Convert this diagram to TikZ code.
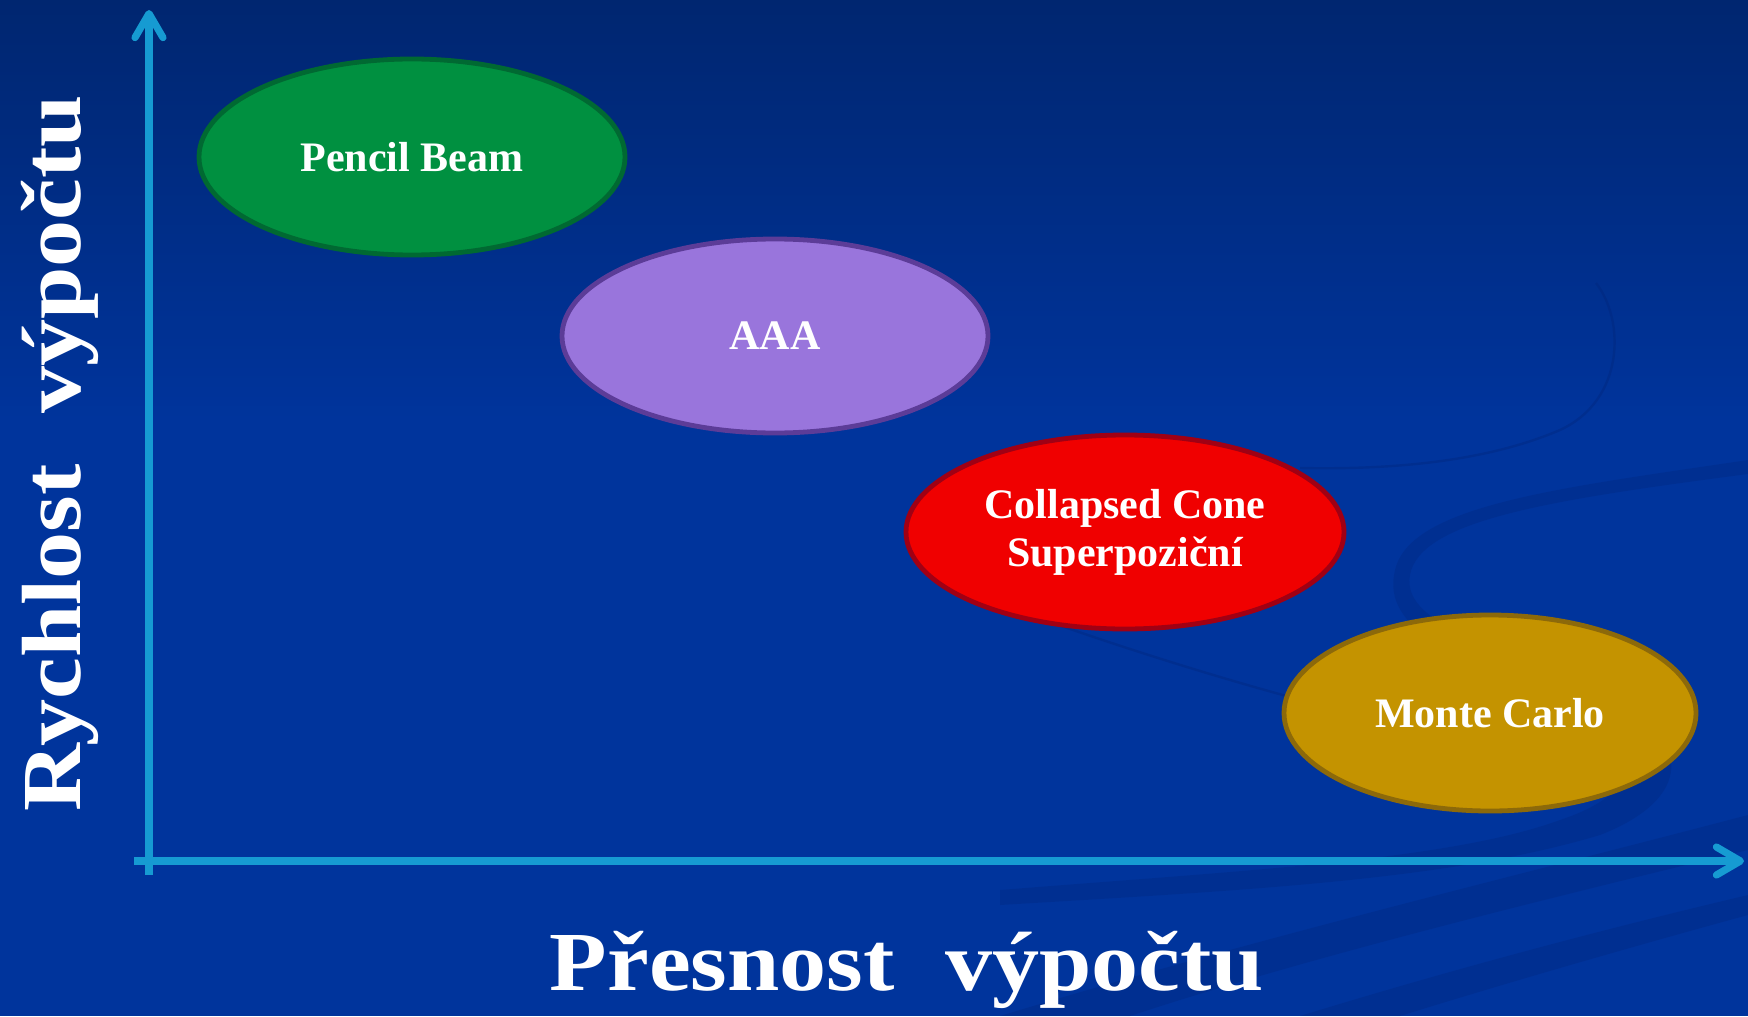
\documentclass[tikz,border=0pt]{standalone}
\usepackage{fontspec}
\setmainfont{Liberation Serif}
\newfontfamily\widefont{Liberation Serif}[FakeStretch=1.12]
\usetikzlibrary{shapes.geometric,arrows.meta}
\definecolor{bgtop}{RGB}{0,38,112}
\definecolor{bgmain}{RGB}{0,52,156}
\definecolor{swoosh}{RGB}{0,36,120}
\definecolor{axiscol}{RGB}{22,155,210}
\definecolor{pbfill}{RGB}{0,144,64}
\definecolor{pbdraw}{RGB}{0,105,50}
\definecolor{aaafill}{RGB}{153,117,220}
\definecolor{aaadraw}{RGB}{92,60,152}
\definecolor{ccfill}{RGB}{240,0,0}
\definecolor{ccdraw}{RGB}{160,0,20}
\definecolor{mcfill}{RGB}{196,147,0}
\definecolor{mcdraw}{RGB}{140,105,10}
\tikzset{
  blob/.style={ellipse, line width=2.4pt, inner sep=0pt, text=white, align=center,
    font=\fontsize{21}{24}\selectfont\bfseries},
  axisline/.style={draw=axiscol, line width=3.6pt,
    -{Straight Barb[length=12pt,width=14pt,line cap=round,line join=round]}},
  axislabel/.style={text=white, font=\widefont\fontsize{42}{46}\selectfont\bfseries, inner sep=0pt},
  swooshband/.style={fill=swoosh, fill opacity=0.28, draw=none},
  swooshline/.style={draw=swoosh, draw opacity=0.35, line width=1.2pt}
}
\begin{document}
\begin{tikzpicture}[x=0.5pt,y=-0.5pt]
% background
\fill[bgmain] (0,0) rectangle (1748,1016);
\shade[top color=bgtop, bottom color=bgmain] (0,0) rectangle (1748,420);
\useasboundingbox (0,0) rectangle (1748,1016);
% decorative swooshes
\path[swooshband] (1748,474) .. controls (1550,500) and (1420,520) .. (1410,575)
  .. controls (1400,630) and (1520,650) .. (1600,690)
  .. controls (1700,740) and (1690,800) .. (1600,835)
  .. controls (1450,880) and (1250,890) .. (1000,905)
  -- (1000,890)
  .. controls (1250,870) and (1450,860) .. (1560,820)
  .. controls (1650,790) and (1650,740) .. (1560,700)
  .. controls (1460,660) and (1380,630) .. (1395,570)
  .. controls (1410,505) and (1560,488) .. (1748,460) -- cycle;
\path[swooshband] (1000,1016) .. controls (1250,940) and (1500,880) .. (1748,815)
  -- (1748,850) .. controls (1520,905) and (1300,960) .. (1130,1016) -- cycle;
\path[swooshband] (1300,1016) .. controls (1450,970) and (1600,930) .. (1748,895)
  -- (1748,915) .. controls (1620,950) and (1500,985) .. (1400,1016) -- cycle;
\draw[swooshline] (1050,622) .. controls (1130,650) and (1210,675) .. (1290,697);
\draw[swooshline] (1596,283) .. controls (1625,320) and (1625,400) .. (1560,430)
  .. controls (1490,460) and (1400,470) .. (1300,468);
% axes
\coordinate (yb) at (149,875);
\coordinate (yt) at (149,10);
\coordinate (xl) at (134,861);
\coordinate (xr) at (1744,861);
\draw[axisline] (yb) -- (yt);
\draw[axisline] (xl) -- (xr);
% ellipses
\node[blob, fill=pbfill, draw=pbdraw, minimum width=213pt, minimum height=98pt] (pb) at (412,157) {Pencil Beam};
\node[blob, fill=aaafill, draw=aaadraw, minimum width=213pt, minimum height=97pt] (aaa) at (775,336) {AAA};
\node[blob, fill=ccfill, draw=ccdraw, minimum width=219pt, minimum height=97pt] (cc) at (1125,532) {Collapsed Cone\\Superpoziční};
\node[blob, fill=mcfill, draw=mcdraw, minimum width=206pt, minimum height=98pt] (mc) at (1490,713) {Monte Carlo};
% axis labels
\node[axislabel, anchor=base] (xlab) at (907,990) {Přesnost\hspace{0.6em}výpočtu};
\node[axislabel, anchor=base, rotate=90] (ylab) at (80,453) {Rychlost\hspace{0.6em}výpočtu};
\end{tikzpicture}
\end{document}
